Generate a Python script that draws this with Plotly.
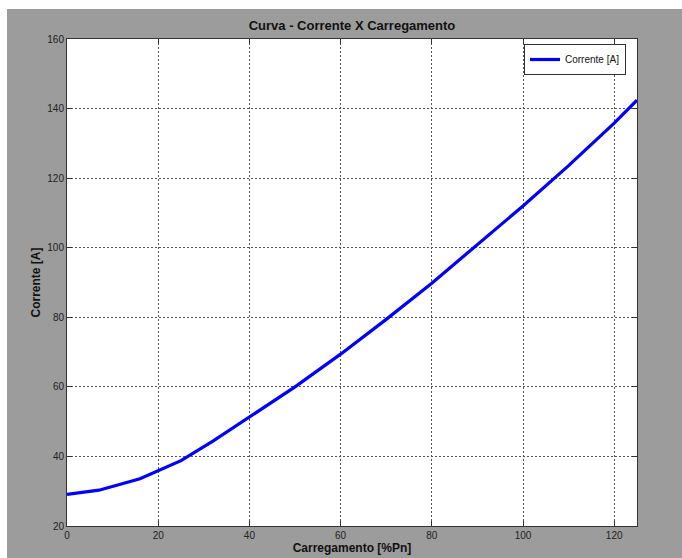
import plotly.graph_objects as go

# Load level (% of rated power) and measured current (A)
carregamento = [0, 7, 16, 25, 32, 40, 50, 60, 70, 80, 90, 100, 110, 120, 125]
corrente = [29.1, 30.3, 33.6, 38.8, 44.4, 51.4, 60.0, 69.4, 79.4, 89.8,
            100.8, 112.0, 123.6, 135.8, 142.4]

x_ticks = [0, 20, 40, 60, 80, 100, 120]
y_ticks = [20, 40, 60, 80, 100, 120, 140, 160]

W, H = 682, 558
ML, MR, MT, MB = 67, 45, 39, 32
PW, PH = W - ML - MR, H - MT - MB

GREY = "#9c9c9c"
FONT = "Liberation Sans, Arial, sans-serif"

fig = go.Figure()
fig.add_trace(go.Scatter(
    x=carregamento, y=corrente, mode="lines", name="Corrente [A]",
    line=dict(color="#0000ff", width=3.2),
))

axis_common = dict(
    showline=True, linecolor="#333333", linewidth=1, mirror="ticks",
    ticks="inside", ticklen=5, tickcolor="#333333", tickwidth=1,
    showgrid=True, gridcolor="#555555", griddash="2px,2px", gridwidth=1,
    zeroline=False, automargin=False,
    tickfont=dict(family=FONT, size=10, color="#222222"),
)

fig.update_layout(
    width=W, height=H,
    margin=dict(l=ML, r=MR, t=MT, b=MB, pad=0, autoexpand=False),
    paper_bgcolor=GREY, plot_bgcolor="white",
    title=dict(text="<b>Curva - Corrente X Carregamento</b>",
               x=(ML + PW / 2) / W, xanchor="center",
               y=1 - 25 / H, yanchor="middle",
               font=dict(family=FONT, size=13, color="#111111")),
    xaxis=dict(range=[0, 125], tickvals=x_ticks, ticktext=[str(v) for v in x_ticks],
               title=dict(text="<b>Carregamento [%Pn]</b>", standoff=2,
                          font=dict(family=FONT, size=12, color="#111111")),
               **axis_common),
    yaxis=dict(range=[20, 160], tickvals=y_ticks, ticktext=[str(v) for v in y_ticks],
               title=dict(text="<b>Corrente [A]</b>", standoff=4,
                          font=dict(family=FONT, size=12, color="#111111")),
               **axis_common),
    legend=dict(x=(626 - ML) / PW, y=1 - (44 - MT) / PH, xanchor="right", yanchor="top",
                bgcolor="white", bordercolor="#333333", borderwidth=1,
                font=dict(family=FONT, size=10, color="#111111"),
                itemwidth=30, tracegroupgap=0),
    showlegend=True,
)

# White page border on the left and top of the grey figure panel
fig.add_shape(type="rect", xref="paper", yref="paper", layer="below",
              x0=-ML / PW, x1=-(ML - 7) / PW, y0=-MB / PH - 0.01, y1=(PH + MT) / PH + 0.01,
              fillcolor="white", line=dict(width=0))
fig.add_shape(type="rect", xref="paper", yref="paper", layer="below",
              x0=-ML / PW - 0.01, x1=(PW + MR) / PW + 0.01, y0=(PH + MT - 9) / PH, y1=(PH + MT) / PH + 0.01,
              fillcolor="white", line=dict(width=0))

fig.write_html("out.html")
